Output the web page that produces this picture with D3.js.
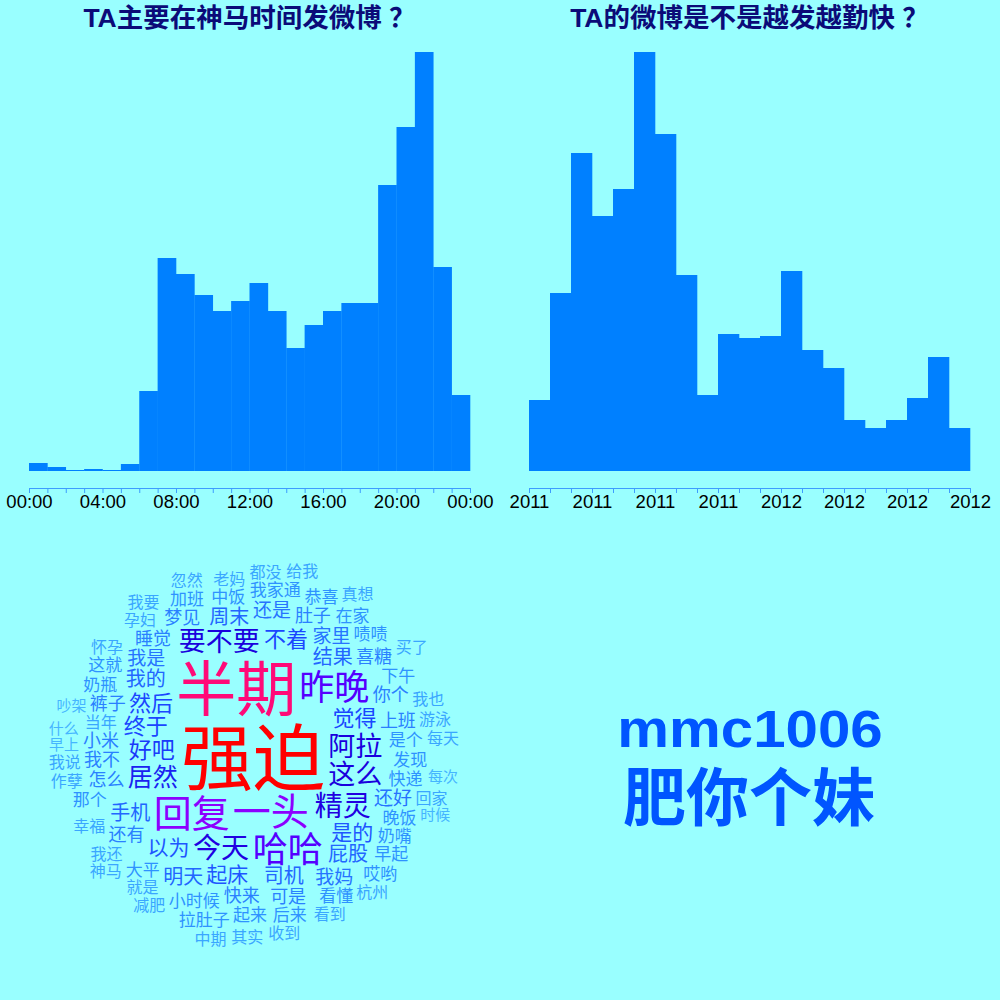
<!DOCTYPE html>
<html><head><meta charset="utf-8">
<script src="https://cdn.jsdelivr.net/npm/d3@7"></script>
<style>
html,body{margin:0;padding:0;background:#99ffff;}
svg{display:block;}
</style>
</head><body>
<svg id="chart" width="1000" height="1000"></svg>
<script>
// ---------------- DATA ----------------
const chartTitles = ["TA主要在神马时间发微博 ？", "TA的微博是不是越发越勤快 ？"];
const hourLabels = ["00:00", "04:00", "08:00", "12:00", "16:00", "20:00", "00:00"];
const hourCounts = [8, 4, 1, 2, 1, 7, 80, 213, 197, 176, 160, 170, 188, 160, 123, 146, 160, 168, 168, 286, 344, 419, 204, 76];
const periodLabels = ["2011", "2011", "2011", "2011", "2012", "2012", "2012", "2012"];
const periodCounts = [71, 178, 318, 255, 282, 419, 337, 196, 76, 137, 133, 135, 200, 121, 103, 51, 43, 51, 73, 114, 43];
const cloudWords = ["强迫","半期","一头","回复","哈哈","昨晚","今天","精灵","阿拉","这么","要不要","居然",
  "好吧","觉得","终于","然后","不着","是的","起床","以为","结果","司机","我的","手机","屁股","周末","明天",
  "我是","还是","家里","我妈","还好","快来","可是","上班","还有","怎么","我不","小米","睡觉","梦见","裤子",
  "你个","肚子","喜糖","小时候","是个","发现","晚饭","快递","大平","起来","中饭","下午","奶嘴","看懂","后来",
  "奶瓶","我家通","那个","拉肚子","啧啧","加班","这就","在家","早起","恭喜","哎哟","当年","就是","我还",
  "孕妇","看到","老妈","幸福","怀孕","都没","收到","杭州","我也","游泳","忽然","减肥","其实","回家","作孽",
  "我要","我说","给我","真想","买了","每天","神马","中期","早上","什么","吵架","每次","时候"];
const cloudFreqs = [72,60,38,38,35,35,28,28,27,27,27,25,
  23,22,22,22,22,21,21,21,20,20,20,20,20,20,20,
  19,19,19,19,19,18,18,18,18,18,18,18,18,18,18,
  18,18,18,17,17,17,17,17,17,17,17,17,17,17,17,
  17,17,17,17,17,17,17,17,17,17,17,16,16,16,
  16,16,16,16,16,16,16,16,16,16,16,16,16,16,16,
  16,16,16,16,16,16,16,16,15,15,15,15,15];
const userName = "mmc1006";
const userTag = "肥你个妹";

// ---------------- SETUP ----------------
const svg = d3.select("#chart");
svg.append("rect").attr("width",1000).attr("height",1000).attr("fill","#99ffff");

const barColor = "#0080ff";
const axisColor = "#3d9cff";
const titleColor = "#0b0b78";
const latinCJK = "'Liberation Sans', Arial, 'Noto Sans CJK SC', sans-serif";

const y = d3.scaleLinear().domain([0, 419]).range([471, 52]);

function histogram(values, x0, x1, labels, labelEvery, title) {
  const n = values.length;
  const x = d3.scaleLinear().domain([0, n]).range([x0, x1]);
  const g = svg.append("g");
  g.selectAll("rect").data(values).join("rect")
    .attr("x", (d, i) => x(i))
    .attr("width", (d, i) => x(i + 1) - x(i) + 0.3)
    .attr("y", d => y(d))
    .attr("height", d => y(0) - y(d))
    .attr("fill", barColor);
  const axis = d3.axisBottom(x)
    .tickValues(d3.range(n + 1))
    .tickFormat(d => d % labelEvery === 0 ? labels[d / labelEvery] : "")
    .tickSize(5).tickSizeOuter(0).tickPadding(2);
  const ag = g.append("g").attr("transform", "translate(0,488)").call(axis);
  ag.select(".domain").attr("stroke", axisColor);
  ag.selectAll(".tick line").attr("stroke", axisColor);
  ag.selectAll(".tick text").attr("fill", "#000")
    .style("font-family", "'Liberation Sans', Arial, sans-serif").style("font-size", "18.5px");
  g.append("text").attr("x", (x0 + x1) / 2).attr("y", 27)
    .attr("text-anchor", "middle")
    .style("font-family", latinCJK).style("font-weight", "bold").style("font-size", "26.5px")
    .attr("fill", titleColor).text(title);
}
histogram(hourCounts, 29, 470, hourLabels, 4, chartTitles[0]);
histogram(periodCounts, 529, 970, periodLabels, 3, chartTitles[1]);

// ---------------- WORD CLOUD ----------------
const sizeScale = d3.scaleLinear().domain([15, 72]).range([15, 72]);
const colorScale = d3.scaleLinear()
  .domain([15, 16, 17, 18, 20, 22, 25, 27, 35, 38, 60, 72])
  .range(["#45b5ff", "#3aa6ff", "#2e92ff", "#2a80ff", "#2266ff", "#1a46ff", "#1a22f0", "#1a00dd", "#5500ff", "#8c00ff", "#ff0a78", "#ff0000"]);

function mulberry32(a) { return function() { a |= 0; a = a + 0x6D2B79F5 | 0; let t = Math.imul(a ^ a >>> 15, 1 | a); t = t + Math.imul(t ^ t >>> 7, 61 | t) ^ t; return ((t ^ t >>> 14) >>> 0) / 4294967296; }; }
const rng = mulberry32(1006);
const ctx = document.createElement("canvas").getContext("2d");
const cx = 253, cy = 752;
const placed = [];
const order = d3.range(cloudWords.length).sort((a, b) => cloudFreqs[b] - cloudFreqs[a]);
order.forEach(i => {
  const s = sizeScale(cloudFreqs[i]);
  ctx.font = `${s}px 'Noto Sans CJK SC'`;
  const w = ctx.measureText(cloudWords[i]).width + 3;
  const h = s * 1.0 + 1;
  const th0 = rng() * 2 * Math.PI;
  let t = 0;
  for (let k = 0; k < 200000; k++) {
    const r = 1.3 * t;
    const px = cx + r * Math.cos(th0 + t), py = cy + r * Math.sin(th0 + t);
    const b = { x0: px - w / 2, x1: px + w / 2, y0: py - h / 2, y1: py + h / 2 };
    let ok = true;
    for (const p of placed) {
      if (b.x0 < p.x1 && b.x1 > p.x0 && b.y0 < p.y1 && b.y1 > p.y0) { ok = false; break; }
    }
    if (ok) { placed.push({ ...b, x: px, y: py, s, word: cloudWords[i], f: cloudFreqs[i] }); break; }
    t += Math.min(0.3, 2.2 / (r + 1));
  }
});
svg.append("g").selectAll("text").data(placed).join("text")
  .attr("x", d => d.x).attr("y", d => d.y)
  .attr("text-anchor", "middle").attr("dominant-baseline", "central")
  .style("font-family", "'Noto Sans CJK SC', sans-serif")
  .style("font-size", d => d.s + "px")
  .attr("fill", d => colorScale(d.f))
  .text(d => d.word);

// ---------------- USER TEXT ----------------
svg.append("text").attr("transform", "translate(750,747) scale(1.12,1)").attr("text-anchor", "middle")
  .style("font-family", "'Liberation Sans', Arial, sans-serif").style("font-weight", "bold")
  .style("font-size", "52px")
  .attr("fill", "#0055ff").text(userName);
svg.append("text").attr("x", 749).attr("y", 820).attr("text-anchor", "middle")
  .style("font-family", "'Noto Sans CJK SC', sans-serif").style("font-weight", "bold")
  .style("font-size", "63px").attr("fill", "#0055ff").text(userTag);
</script>
</body></html>
